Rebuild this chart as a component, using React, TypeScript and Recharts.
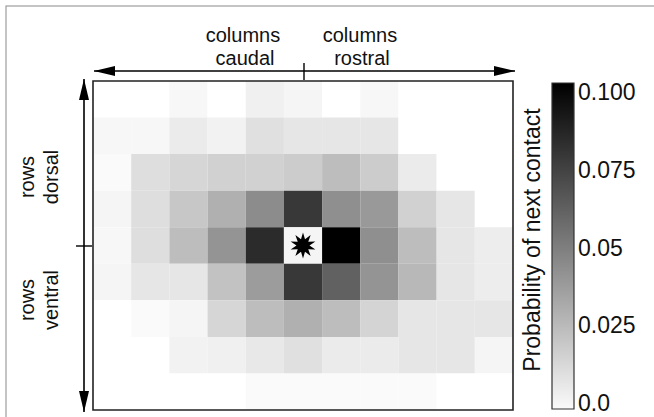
import { ComposedChart, ReferenceArea, Scatter, ScatterChart, XAxis, YAxis } from "recharts";

// contact probability per cell, rows top (dorsal) to bottom (ventral), columns caudal -> rostral
const row0 = [0, 0, 0.003, 0, 0.006, 0.004, 0, 0.003, 0, 0, 0];
const row1 = [0.003, 0.003, 0.008, 0.005, 0.012, 0.01, 0.01, 0.01, 0, 0, 0];
const row2 = [0.002, 0.013, 0.016, 0.018, 0.018, 0.02, 0.026, 0.02, 0.008, 0, 0];
const row3 = [0.004, 0.013, 0.022, 0.031, 0.045, 0.078, 0.044, 0.04, 0.018, 0.01, 0];
const row4 = [0.003, 0.013, 0.026, 0.042, 0.083, 0.004, 0.1, 0.044, 0.026, 0.01, 0.007];
const row5 = [0.004, 0.01, 0.01, 0.024, 0.039, 0.078, 0.062, 0.042, 0.028, 0.01, 0.007];
const row6 = [0, 0.002, 0.004, 0.016, 0.026, 0.031, 0.026, 0.017, 0.01, 0.01, 0.01];
const row7 = [0, 0, 0.005, 0.006, 0.009, 0.012, 0.008, 0.008, 0.01, 0.01, 0.004];
const row8 = [0, 0, 0, 0, 0.002, 0.002, 0.002, 0.002, 0.002, 0, 0];
const probabilityRows = [row0, row1, row2, row3, row4, row5, row6, row7, row8];

// the reference contact sits in this cell
const origin = [{ x: 5.5, y: 4.5 }];

const scaleMax = 0.1;
const barTicks = [0, 0.025, 0.05, 0.075, 0.1];
const barTickLabels = ["0.0", "0.025", "0.05", "0.075", "0.100"];
const barDomain = [-0.002, 0.103];

const colLabels = ["columns", "caudal", "columns", "rostral"];
const rowLabels = ["rows", "dorsal", "rows", "ventral"];
const barTitle = "Probability of next contact";

const FONT = "'Liberation Sans', Arial, sans-serif";

const nCols = row0.length;
const nRows = probabilityRows.length;

const cells = probabilityRows.flatMap((r, ri) => r.map((p, ci) => ({ col: ci, row: ri, p })));

function grey(p: number) {
  const g = Math.round(255 * (1 - Math.min(p, scaleMax) / scaleMax));
  return `rgb(${g},${g},${g})`;
}

function Star(props: any) {
  const { cx, cy } = props;
  const pts: string[] = [];
  for (let i = 0; i < 20; i++) {
    const r = i % 2 === 0 ? 13 : 6.5;
    const a = (Math.PI * i) / 10 - Math.PI / 2;
    pts.push(`${cx + r * Math.cos(a)},${cy + r * Math.sin(a)}`);
  }
  return <polygon points={pts.join(" ")} fill="#000" />;
}

function Arrow({ x1, y1, x2, y2 }: { x1: number; y1: number; x2: number; y2: number }) {
  // double headed arrow with long narrow heads
  const len = 21;
  const hw = 5;
  const horiz = y1 === y2;
  const heads = horiz
    ? [
        `${x1},${y1} ${x1 + len},${y1 - hw} ${x1 + len},${y1 + hw}`,
        `${x2},${y2} ${x2 - len},${y2 - hw} ${x2 - len},${y2 + hw}`,
      ]
    : [
        `${x1},${y1} ${x1 - hw},${y1 + len} ${x1 + hw},${y1 + len}`,
        `${x2},${y2} ${x2 - hw},${y2 - len} ${x2 + hw},${y2 - len}`,
      ];
  return (
    <g>
      <line x1={x1} y1={y1} x2={x2} y2={y2} stroke="#000" strokeWidth={1.6} />
      {heads.map((h, i) => (
        <polygon key={i} points={h} fill="#000" />
      ))}
    </g>
  );
}

export default function App() {
  return (
    <div style={{ position: "absolute", left: 0, top: 0, width: 654, height: 417, background: "#fff" }}>
      <div style={{ position: "absolute", left: 0, top: 0 }}>
        <ScatterChart width={654} height={417} margin={{ top: 81, right: 141, bottom: 7, left: 93 }}>
          <rect x={6} y={6} width={700} height={500} fill="none" stroke="#8a8a8a" strokeWidth={1} />
          <XAxis type="number" dataKey="x" domain={[0, nCols]} hide />
          <YAxis type="number" dataKey="y" domain={[0, nRows]} reversed hide />
          {cells.map((c) => (
            <ReferenceArea
              key={`${c.row}-${c.col}`}
              x1={c.col}
              x2={c.col + 1}
              y1={c.row}
              y2={c.row + 1}
              fill={grey(c.p)}
              fillOpacity={1}
              stroke="none"
            />
          ))}
          <ReferenceArea x1={0} x2={nCols} y1={0} y2={nRows} fill="none" stroke="#222" strokeWidth={1.6} />
          <Scatter data={origin} shape={<Star />} isAnimationActive={false} />

          <Arrow x1={94} y1={71} x2={515} y2={71} />
          <line x1={304} y1={63} x2={304} y2={80} stroke="#000" strokeWidth={1.4} />
          <g fontFamily={FONT} fontSize={20} fill="#111" textAnchor="middle">
            <text x={243} y={42}>{colLabels[0]}</text>
            <text x={245} y={65}>{colLabels[1]}</text>
            <text x={360} y={42}>{colLabels[2]}</text>
            <text x={362} y={65}>{colLabels[3]}</text>
          </g>

          <Arrow x1={84} y1={79} x2={84} y2={412} />
          <line x1={76} y1={246} x2={92} y2={246} stroke="#000" strokeWidth={1.4} />
          <g fontFamily={FONT} fontSize={20} fill="#111" textAnchor="middle">
            <text transform="translate(34,177) rotate(-90)">{rowLabels[0]}</text>
            <text transform="translate(58,177) rotate(-90)">{rowLabels[1]}</text>
            <text transform="translate(34,300) rotate(-90)">{rowLabels[2]}</text>
            <text transform="translate(58,300) rotate(-90)">{rowLabels[3]}</text>
          </g>
        </ScatterChart>
      </div>

      <div style={{ position: "absolute", left: 520, top: 0 }}>
        <ComposedChart width={134} height={417} data={[{ k: "bar" }]} margin={{ top: 83, right: 10, bottom: 8, left: 32 }}>
          <defs>
            <linearGradient id="greyRamp" x1="0" y1="0" x2="0" y2="1">
              <stop offset="0%" stopColor="#000" />
              <stop offset="100%" stopColor="#fafafa" />
            </linearGradient>
          </defs>
          <XAxis dataKey="k" hide />
          <YAxis
            type="number"
            orientation="right"
            domain={barDomain}
            allowDataOverflow
            ticks={barTicks}
            tickFormatter={(v) => barTickLabels[barTicks.indexOf(v)] ?? String(v)}
            axisLine={false}
            tickLine={false}
            tickSize={2}
            tickMargin={2}
            width={70}
            tick={{ fontSize: 23, fill: "#111", fontFamily: FONT }}
          />
          <ReferenceArea y1={barDomain[0]} y2={barDomain[1]} fill="url(#greyRamp)" fillOpacity={1} stroke="#333" strokeWidth={1.2} />
          <text
            transform="translate(20,240) rotate(-90)"
            textAnchor="middle"
            fontFamily={FONT}
            fontSize={23}
            fill="#111"
          >
            {barTitle}
          </text>
        </ComposedChart>
      </div>
    </div>
  );
}
